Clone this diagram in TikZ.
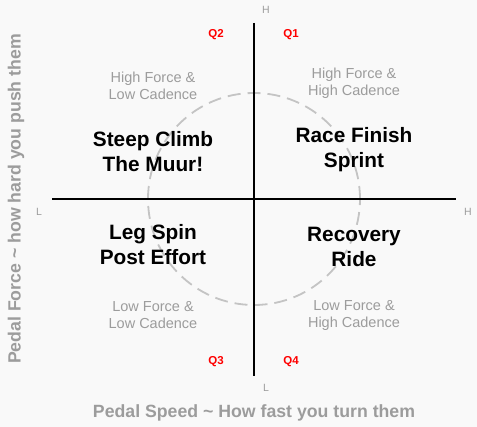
\documentclass[tikz,border=0pt]{standalone}
\usepackage{fontspec}
\setmainfont{Liberation Sans}
\definecolor{bg}{HTML}{F9F9F9}
\definecolor{lgray}{HTML}{9C9C9C}
\definecolor{cgray}{HTML}{C4C4C4}
\definecolor{qred}{HTML}{FF0000}
\begin{document}
\begin{tikzpicture}[x=1pt,y=-1pt,
  axis/.style={line width=2.4pt,black},
  ring/.style={cgray,line width=1.8pt,dash pattern=on 13pt off 7pt},
  quad/.style={align=center,font=\fontsize{14.5}{17}\selectfont,text=lgray,inner sep=0pt},
  big/.style={align=center,font=\bfseries\fontsize{20.8}{25}\selectfont,text=black,inner sep=0pt},
  qlab/.style={font=\bfseries\fontsize{11.5}{13}\selectfont,text=qred,inner sep=0pt},
  end/.style={font=\fontsize{10.5}{12}\selectfont,text=lgray,inner sep=0pt},
  title/.style={font=\bfseries\fontsize{17.7}{20}\selectfont,text=lgray,inner sep=0pt}]
\fill[bg] (0,0) rectangle (477,427);
\useasboundingbox (0,0) rectangle (477,427);
\coordinate (c) at (254,199);
\draw[ring] (c) circle[radius=106pt];
\coordinate (vt) at (254,23);
\coordinate (vb) at (254,376);
\coordinate (hl) at (52,199);
\coordinate (hr) at (456,199);
\draw[axis] (vt) -- (vb);
\draw[axis] (hl) -- (hr);
\node[end] (ht) at (266,10) {H};
\node[end] (lb) at (266,388) {L};
\node[end] (ll) at (39,212) {L};
\node[end] (hrr) at (468,212) {H};
\node[qlab] (q2) at (216,35) {Q2};
\node[qlab] (q1) at (291,35) {Q1};
\node[qlab] (q3) at (216,362) {Q3};
\node[qlab] (q4) at (291,362) {Q4};
\node[quad] (hflc) at (153,86) {High Force \&\\Low Cadence};
\node[quad] (hfhc) at (354,83) {High Force \&\\High Cadence};
\node[quad] (lflc) at (153,315) {Low Force \&\\Low Cadence};
\node[quad] (lfhc) at (354,315) {Low Force \&\\High Cadence};
\node[big] (steep) at (153,152) {Steep Climb\\The Muur!};
\node[big] (race) at (354,150) {Race Finish\\Sprint};
\node[big] (leg) at (153,245) {Leg Spin\\Post Effort};
\node[big] (rec) at (354,247) {Recovery\\Ride};
\node[title] (xt) at (254,413) {Pedal Speed \textasciitilde{} How fast you turn them};
\node[title,rotate=90] (yt) at (16,199) {Pedal Force \textasciitilde{} how hard you push them};
\end{tikzpicture}
\end{document}
